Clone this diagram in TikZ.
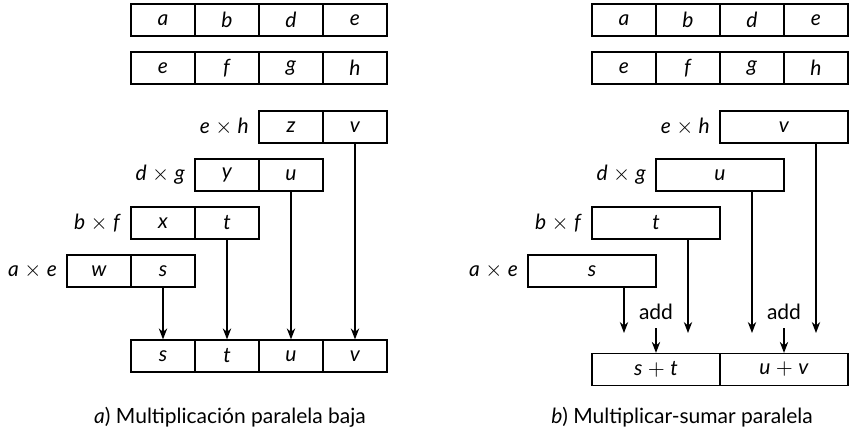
\documentclass[tikz,border=0pt]{standalone}
\usepackage{fontspec}
\setmainfont{Lato}
\usepackage{tikz}
\usetikzlibrary{arrows.meta,positioning}

\begin{document}
\begin{tikzpicture}[x=0.5pt,y=-0.5pt,>={Stealth[length=5.5pt,width=4.2pt]},
  font=\fontsize{10.5}{12}\selectfont,line width=0.6pt,
  cell/.style={draw,minimum width=32pt,minimum height=16pt,inner sep=0pt},
  wide/.style={cell,minimum width=64pt},
  lbl/.style={inner sep=1pt}]
  \useasboundingbox (0,0) rectangle (852,431);
  % a) multiplicacion paralela baja
  \foreach \l [count=\i] in {a,b,d,e}
    \node[cell] (la\i) at (99+64*\i,20) {\textit{\l}};
  \foreach \l [count=\i] in {e,f,g,h}
    \node[cell] (lb\i) at (99+64*\i,68) {\textit{\l}};
  \node[cell] (lz) at (291,127) {\textit{z}};
  \node[cell] (lv) at (355,127) {\textit{v}};
  \node[cell] (ly) at (227,175) {\textit{y}};
  \node[cell] (lu) at (291,175) {\textit{u}};
  \node[cell] (lx) at (163,223) {\textit{x}};
  \node[cell] (lt) at (227,223) {\textit{t}};
  \node[cell] (lw) at (99,271) {\textit{w}};
  \node[cell] (ls) at (163,271) {\textit{s}};
  \node[lbl,left=3.5pt of lz] {\textit{e} $\times$ \textit{h}};
  \node[lbl,left=3.5pt of ly] {\textit{d} $\times$ \textit{g}};
  \node[lbl,left=3.5pt of lx] {\textit{b} $\times$ \textit{f}};
  \node[lbl,left=3.5pt of lw] {\textit{a} $\times$ \textit{e}};
  \foreach \l [count=\i] in {s,t,u,v}
    \node[cell] (lr\i) at (99+64*\i,356) {\textit{\l}};
  \draw[->] (ls.south) -- (lr1.north);
  \draw[->] (lt.south) -- (lr2.north);
  \draw[->] (lu.south) -- (lr3.north);
  \draw[->] (lv.south) -- (lr4.north);
  \node (capa) at (230,417) {\textit{a}) Multiplicación paralela baja};

  % b) multiplicar-sumar paralela
  \foreach \l [count=\i] in {a,b,d,e}
    \node[cell] (ra\i) at (560+64*\i,20) {\textit{\l}};
  \foreach \l [count=\i] in {e,f,g,h}
    \node[cell] (rb\i) at (560+64*\i,68) {\textit{\l}};
  \node[wide] (rv) at (784,127) {\textit{v}};
  \node[wide] (ru) at (720,175) {\textit{u}};
  \node[wide] (rt) at (656,223) {\textit{t}};
  \node[wide] (rs) at (592,271) {\textit{s}};
  \node[lbl,left=3.5pt of rv] {\textit{e} $\times$ \textit{h}};
  \node[lbl,left=3.5pt of ru] {\textit{d} $\times$ \textit{g}};
  \node[lbl,left=3.5pt of rt] {\textit{b} $\times$ \textit{f}};
  \node[lbl,left=3.5pt of rs] {\textit{a} $\times$ \textit{e}};
  \node[wide] (rst) at (656,369.5) {\textit{s} $+$ \textit{t}};
  \node[wide] (ruv) at (784,369.5) {\textit{u} $+$ \textit{v}};
  \coordinate (stop) at (0,333);
  \draw[->] (rs.south-|624,0) -- (624,0|-stop);
  \draw[->] (rt.south-|688,0) -- (688,0|-stop);
  \draw[->] (ru.south-|752,0) -- (752,0|-stop);
  \draw[->] (rv.south-|816,0) -- (816,0|-stop);
  \node[inner sep=1pt] (add1) at (656,312) {add};
  \node[inner sep=1pt] (add2) at (784,312) {add};
  \draw[->] ([yshift=-3pt]add1.south) -- (rst.north);
  \draw[->] ([yshift=-3pt]add2.south) -- (ruv.north);
  \node (capb) at (682,417) {\textit{b}) Multiplicar-sumar paralela};
\end{tikzpicture}
\end{document}
